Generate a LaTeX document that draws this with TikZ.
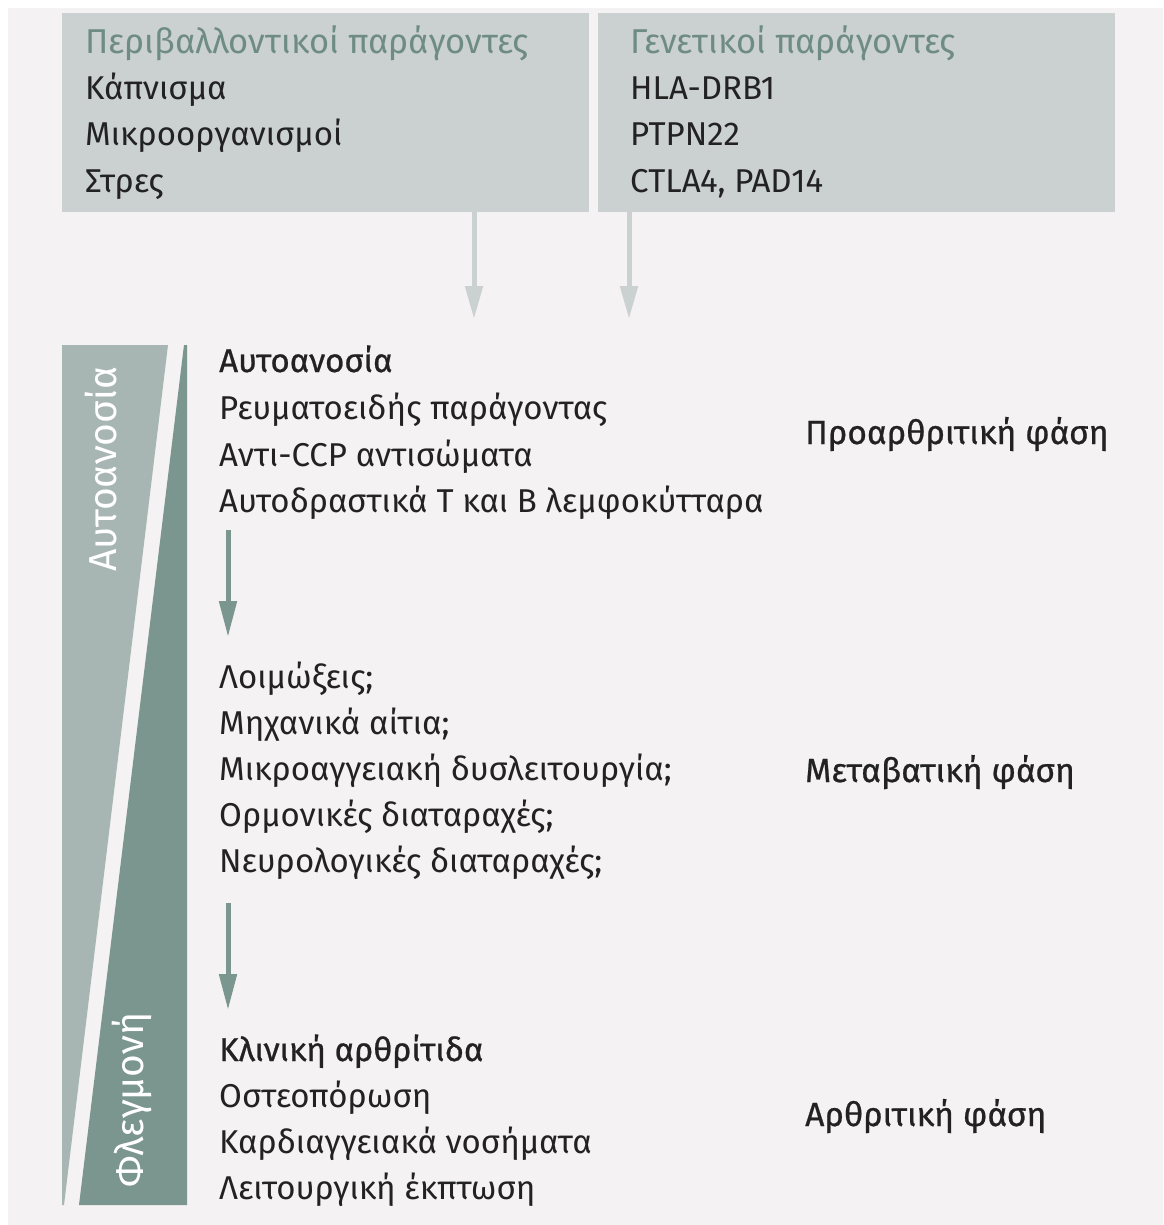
\documentclass[tikz,border=0pt]{standalone}
\usepackage{fontspec}
\setmainfont{Fira Sans}
\usetikzlibrary{arrows.meta}
\definecolor{bgc}{HTML}{F4F2F3}
\definecolor{boxc}{HTML}{CBD1D0}
\definecolor{titlec}{HTML}{6E8B85}
\definecolor{lightc}{HTML}{A8B6B3}
\definecolor{darkc}{HTML}{7B958F}
\definecolor{txtc}{HTML}{222222}
\newcommand{\semib}{\addfontfeature{FakeBold=0.7}}
\tikzset{
  boxstyle/.style={fill=boxc, draw=none, rectangle, inner sep=0pt, anchor=north west},
  line/.style={anchor=base west, inner sep=0pt, text=txtc, font=\fontsize{33}{40}\selectfont},
  title/.style={line, text=titlec, font=\fontsize{34.5}{40}\selectfont},
  head/.style={line, font=\fontsize{33}{40}\selectfont\semib},
  phase/.style={line, font=\fontsize{33.5}{40}\selectfont\semib},
  side/.style={inner sep=0pt, text=white, rotate=90, font=\fontsize{39}{44}\selectfont},
  garrow/.style={draw=boxc, line width=5pt, -{Triangle[width=17pt,length=33pt]}},
  tarrow/.style={draw=darkc, line width=5pt, -{Triangle[width=17pt,length=36pt]}}
}
\begin{document}
\begin{tikzpicture}[x=1pt,y=-1pt]
\useasboundingbox (0,0) rectangle (1163,1225);
\fill[white] (0,0) rectangle (1163,1225);
\fill[bgc] (8,8) rectangle (1163,1225);

% top boxes
\node[boxstyle, minimum width=527pt, minimum height=199pt] (envbox) at (62,13) {};
\node[boxstyle, minimum width=517pt, minimum height=199pt] (genbox) at (598,13) {};

\node[title] (envt) at (85,54) {Περιβαλλοντικοί παράγοντες};
\node[line] (env1) at (85,100) {Κάπνισμα};
\node[line] (env2) at (85,146) {Μικροοργανισμοί};
\node[line] (env3) at (85,193) {Στρες};

\node[title] (gent) at (630,54) {Γενετικοί παράγοντες};
\node[line] (gen1) at (630,100) {HLA-DRB1};
\node[line] (gen2) at (630,146) {PTPN22};
\node[line] (gen3) at (630,193) {CTLA4, PAD14};

\coordinate (ea) at (474,319);
\coordinate (ga) at (629,319);
\draw[garrow] (envbox.south -| ea) -- (ea);
\draw[garrow] (genbox.south -| ga) -- (ga);

% wedges
\fill[lightc] (62,345) -- (168,345) -- (64,1205) -- (62,1205) -- cycle;
\fill[darkc] (184,345) -- (187,345) -- (187,1205) -- (79,1205) -- cycle;
\node[side] (autolab) at (101,469) {Αυτοανοσία};
\node[side] (flegmlab) at (132,1100) {Φλεγμονή};

% group 1
\node[head] (a0) at (219,372) {Αυτοανοσία};
\node[line] (a1) at (219,419) {Ρευματοειδής παράγοντας};
\node[line] (a2) at (219,466) {Αντι-CCP αντισώματα};
\node[line] (a3) at (219,512) {Αυτοδραστικά Τ και Β λεμφοκύτταρα};
\node[phase] (p1) at (805,444) {Προαρθριτική φάση};

\coordinate (ar1s) at (228,530);
\coordinate (ar1e) at (228,637);
\draw[tarrow] (ar1s) -- (ar1e);

% group 2
\node[line] (b0) at (219,688) {Λοιμώξεις;};
\node[line] (b1) at (219,734) {Μηχανικά αίτια;};
\node[line] (b2) at (219,780) {Μικροαγγειακή δυσλειτουργία;};
\node[line] (b3) at (219,826) {Ορμονικές διαταραχές;};
\node[line] (b4) at (219,872) {Νευρολογικές διαταραχές;};
\node[phase] (p2) at (805,782) {Μεταβατική φάση};

\coordinate (ar2s) at (228,903);
\coordinate (ar2e) at (228,1010);
\draw[tarrow] (ar2s) -- (ar2e);

% group 3
\node[head] (c0) at (219,1061) {Κλινική αρθρίτιδα};
\node[line] (c1) at (219,1107) {Οστεοπόρωση};
\node[line] (c2) at (219,1153) {Καρδιαγγειακά νοσήματα};
\node[line] (c3) at (219,1199) {Λειτουργική έκπτωση};
\node[phase] (p3) at (805,1126) {Αρθριτική φάση};
\end{tikzpicture}
\end{document}
